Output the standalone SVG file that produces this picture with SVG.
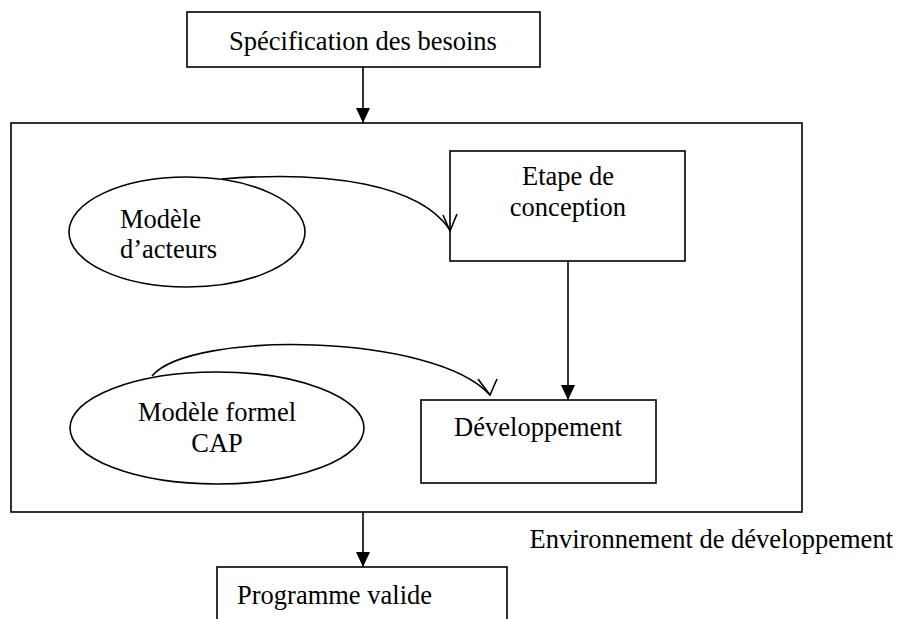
<svg xmlns="http://www.w3.org/2000/svg" width="899" height="619" viewBox="0 0 899 619">
  <style>
    .box { fill: #fff; stroke: #000; stroke-width: 1.6; }
    .ell { fill: #fff; stroke: #000; stroke-width: 1.6; }
    .line { fill: none; stroke: #000; stroke-width: 1.6; }
    .txt { font-family: "Liberation Serif", "Times New Roman", serif; font-size: 26.5px; fill: #000; }
    .c { text-anchor: middle; }
    .e { text-anchor: end; }
  </style>
  <defs>
    <marker id="tri" markerWidth="15" markerHeight="14" refX="15" refY="7" orient="auto" markerUnits="userSpaceOnUse">
      <path d="M0,0 L15,7 L0,14 Z" fill="#000"/>
    </marker>
  </defs>
  <rect width="899" height="619" fill="#fff"/>

  <g id="env">
    <rect class="box" x="11" y="123" width="791" height="389"/>
    <text class="txt e" x="893" y="548">Environnement de développement</text>
  </g>

  <g id="specification">
    <rect class="box" x="187" y="12" width="353" height="55"/>
    <text class="txt c" x="363" y="50">Spécification des besoins</text>
  </g>

  <g id="etape">
    <rect class="box" x="450" y="151" width="235" height="110"/>
    <text class="txt c" x="568" y="185">Etape de</text>
    <text class="txt c" x="568" y="216">conception</text>
  </g>

  <g id="acteurs">
    <ellipse class="ell" cx="187" cy="232" rx="118" ry="55"/>
    <text class="txt" x="120" y="228">Modèle</text>
    <text class="txt" x="120" y="258">d’acteurs</text>
  </g>

  <g id="cap">
    <ellipse class="ell" cx="217" cy="428" rx="147" ry="56"/>
    <text class="txt c" x="217" y="421">Modèle formel</text>
    <text class="txt c" x="217" y="452">CAP</text>
  </g>

  <g id="developpement">
    <rect class="box" x="421" y="400" width="235" height="83"/>
    <text class="txt c" x="538" y="436">Développement</text>
  </g>

  <g id="programme">
    <rect class="box" x="217" y="567" width="290" height="60"/>
    <text class="txt" x="237" y="604">Programme valide</text>
  </g>

  <g id="connectors">
    <line class="line" x1="363" y1="67" x2="363" y2="123" marker-end="url(#tri)"/>
    <line class="line" x1="568" y1="261" x2="568" y2="400" marker-end="url(#tri)"/>
    <line class="line" x1="363" y1="512" x2="363" y2="567" marker-end="url(#tri)"/>
    <path class="line" d="M222,179 C330,170 420,185 450,230"/>
    <polyline class="line" points="443,215 450,231 457,214"/>
    <path class="line" d="M152,376 C190,330 435,333 490,395"/>
    <polyline class="line" points="478,379 490,395 497,379"/>
  </g>
</svg>
